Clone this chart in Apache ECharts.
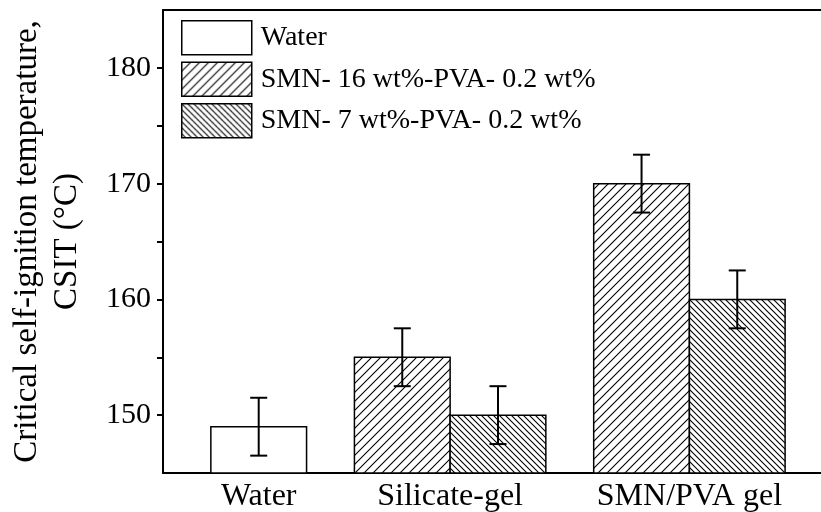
<!DOCTYPE html>
<html>
<head>
<meta charset="utf-8">
<script src="https://cdn.jsdelivr.net/npm/echarts@6/dist/echarts.min.js"></script>
<style>
  html, body { margin: 0; padding: 0; background: #fff; }
  #chart { width: 821px; height: 512px; }
</style>
</head>
<body>
<div id="chart"></div>
<script>
// Category names and their positions on the x scale
const categories = ['Water', 'Silicate-gel', 'SMN/PVA gel'];
const categoryPos = [1.2, 2, 3];

// Series names
const seriesNames = ['Water', 'SMN- 16 wt%-PVA- 0.2 wt%', 'SMN- 7 wt%-PVA- 0.2 wt%'];

// CSIT (°C) per category, null where a series has no bar
const waterCSIT = [149, null, null];
const waterErr  = [2.5, null, null];
const smn16CSIT = [null, 155, 170];
const smn16Err  = [null, 2.5, 2.5];
const smn7CSIT  = [null, 150, 160];
const smn7Err   = [null, 2.5, 2.5];

// Y axis ticks
const yMajorTicks = [150, 160, 170, 180];
const yAllTicks = [150, 155, 160, 165, 170, 175, 180];

const FONT = '"Liberation Serif", "Times New Roman", serif';
const Y_MIN = 145, Y_MAX = 185;
const BAR_W = 0.4;

// Hatch fill tile: dir = 1 for '/', -1 for '\'
function hatch(p, dir, lw) {
  const c = document.createElement('canvas');
  c.width = p; c.height = p;
  const g = c.getContext('2d');
  g.fillStyle = '#fff';
  g.fillRect(0, 0, p, p);
  g.strokeStyle = '#000';
  g.lineWidth = lw;
  g.beginPath();
  if (dir > 0) {
    g.moveTo(-1, p + 1); g.lineTo(p + 1, -1);
    g.moveTo(-1, 1); g.lineTo(1, -1);
    g.moveTo(p - 1, p + 1); g.lineTo(p + 1, p - 1);
  } else {
    g.moveTo(-1, -1); g.lineTo(p + 1, p + 1);
    g.moveTo(p - 1, -1); g.lineTo(p + 1, 1);
    g.moveTo(-1, p - 1); g.lineTo(1, p + 1);
  }
  g.stroke();
  return { image: c, repeat: 'repeat' };
}

const fills = ['#ffffff', hatch(9, 1, 1.1), hatch(6, -1, 1.1)];
const offsets = [0, -BAR_W / 2, BAR_W / 2];
const values = [waterCSIT, smn16CSIT, smn7CSIT];
const errors = [waterErr, smn16Err, smn7Err];

function buildData(vals, errs, off) {
  const out = [];
  vals.forEach((v, i) => {
    if (v != null) out.push([categoryPos[i] + off, v, errs[i]]);
  });
  return out;
}

function makeRender(fill) {
  return function (params, api) {
    const x = api.value(0), y = api.value(1), e = api.value(2);
    const tl = api.coord([x - BAR_W / 2, y]);
    const br = api.coord([x + BAR_W / 2, Y_MIN]);
    const top = api.coord([x, y + e]);
    const bot = api.coord([x, y - e]);
    const cap = 8.5;
    const lineStyle = { stroke: '#000', lineWidth: 2 };
    return {
      type: 'group',
      children: [
        {
          type: 'rect',
          shape: { x: tl[0], y: tl[1], width: br[0] - tl[0], height: br[1] - tl[1] },
          style: { fill: fill, stroke: '#000', lineWidth: 1.5 }
        },
        { type: 'line', shape: { x1: top[0], y1: top[1], x2: bot[0], y2: bot[1] }, style: lineStyle },
        { type: 'line', shape: { x1: top[0] - cap, y1: top[1], x2: top[0] + cap, y2: top[1] }, style: lineStyle },
        { type: 'line', shape: { x1: bot[0] - cap, y1: bot[1], x2: bot[0] + cap, y2: bot[1] }, style: lineStyle }
      ]
    };
  };
}

const series = seriesNames.map((name, k) => ({
  type: 'custom',
  name: name,
  xAxisIndex: 0,
  yAxisIndex: 0,
  itemStyle: { color: fills[k], borderColor: '#000', borderWidth: 1.5 },
  encode: { x: 0, y: 1 },
  renderItem: makeRender(fills[k]),
  data: buildData(values[k], errors[k], offsets[k]),
  clip: false
}));

const chart = echarts.init(document.getElementById('chart'), null, { renderer: 'canvas' });
chart.setOption({
  animation: false,
  backgroundColor: '#fff',
  grid: { left: 163, right: 0, top: 10, bottom: 39, containLabel: false, outerBoundsMode: 'none' },
  legend: {
    orient: 'vertical',
    left: 181,
    top: 20,
    padding: 0,
    itemWidth: 70,
    itemHeight: 34,
    itemGap: 6,
    icon: 'rect',
    selectedMode: false,
    textStyle: { fontFamily: FONT, fontSize: 28, color: '#000', padding: [0, 0, 0, 4] },
    data: seriesNames.map((n, k) => ({
      name: n,
      itemStyle: { color: fills[k], borderColor: '#000', borderWidth: 1.5 }
    }))
  },
  xAxis: [
    {
      type: 'value',
      position: 'bottom',
      min: 0.8,
      max: 3.55,
      axisLine: { show: true, onZero: false, lineStyle: { color: '#000', width: 2 } },
      axisTick: { show: false },
      splitLine: { show: false },
      axisLabel: {
        customValues: categoryPos,
        formatter: (v) => {
          let best = 0;
          categoryPos.forEach((p, i) => { if (Math.abs(p - v) < Math.abs(categoryPos[best] - v)) best = i; });
          return categories[best];
        },
        fontFamily: FONT,
        fontSize: 32,
        color: '#000',
        margin: 8
      }
    },
    {
      type: 'value',
      position: 'top',
      min: 0.8,
      max: 3.55,
      axisLine: { show: true, onZero: false, lineStyle: { color: '#000', width: 2 } },
      axisTick: { show: false },
      axisLabel: { show: false },
      splitLine: { show: false }
    }
  ],
  yAxis: {
    type: 'value',
    min: Y_MIN,
    max: Y_MAX,
    interval: 5,
    name: 'Critical self-ignition temperature,\nCSIT (°C)',
    nameLocation: 'middle',
    nameRotate: 90,
    nameGap: 76,
    nameTextStyle: { fontFamily: FONT, fontSize: 33, color: '#000', lineHeight: 40 },
    axisLine: { show: true, onZero: false, lineStyle: { color: '#000', width: 2 } },
    axisTick: { show: true, customValues: yAllTicks, length: 6, inside: false, lineStyle: { color: '#000', width: 2 } },
    axisLabel: { customValues: yMajorTicks, fontFamily: FONT, fontSize: 30, color: '#000', margin: 12 },
    splitLine: { show: false }
  },
  series: series
});
</script>
</body>
</html>
